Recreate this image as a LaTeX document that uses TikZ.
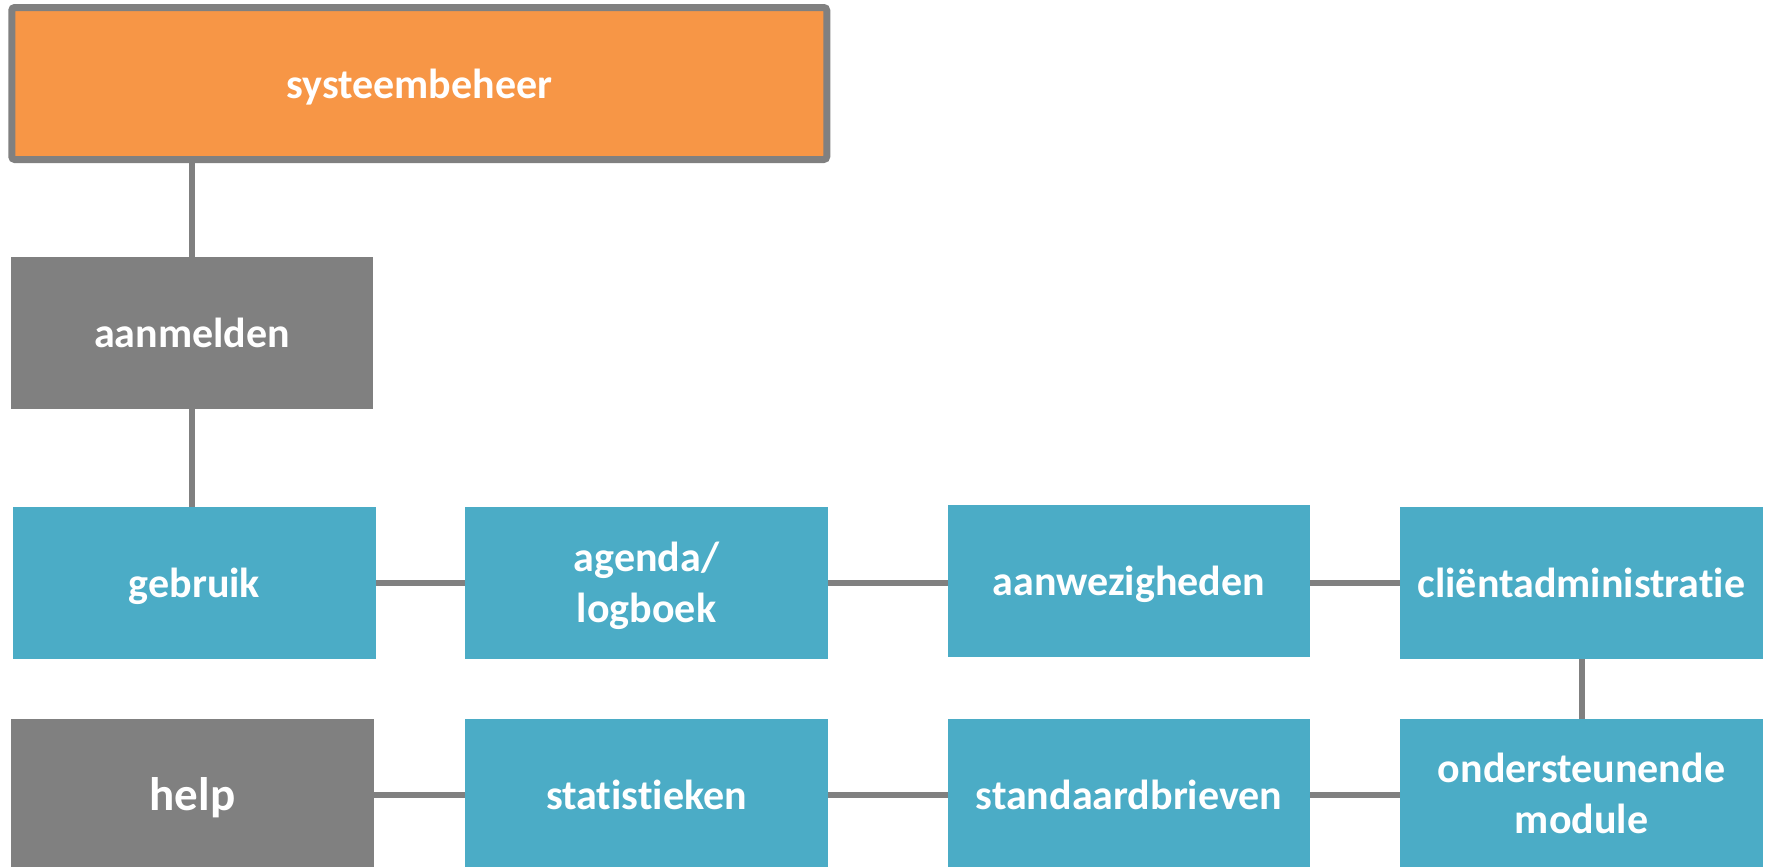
\documentclass[tikz,border=0pt]{standalone}
\usepackage{fontspec}
\setmainfont{Carlito}[Ligatures=CommonOff]
\definecolor{orangefill}{HTML}{F79646}
\definecolor{bluefill}{HTML}{4BACC6}
\definecolor{grayfill}{HTML}{808080}
\begin{document}
\begin{tikzpicture}[x=0.5pt,y=-0.5pt,
  box/.style={rectangle, inner sep=0pt, outer sep=0pt, minimum width=181.5pt, minimum height=76pt,
    text=white, align=center, font=\bfseries\fontsize{21pt}{25.5pt}\selectfont,
    text height=14.5pt, text depth=0pt},
  twoline/.style={text height=39pt, text depth=0pt},
  bluebox/.style={box, fill=bluefill},
  graybox/.style={box, fill=grayfill},
  topbox/.style={box, fill=orangefill, draw=grayfill, line width=3.5pt, rounded corners=1.5pt,
    minimum width=407.5pt, minimum height=76pt},
  conn/.style={draw=grayfill, line width=3pt}]
\useasboundingbox (0,0) rectangle (1774,867);
\node[topbox] (top) at (419.25,83.5) {systeembeheer};
\node[graybox, minimum width=181pt] (aanmelden) at (192,333) {aanmelden};
\node[bluebox] (gebruik) at (194.5,583) {gebruik};
\node[bluebox, twoline] (agenda) at (646.5,583) {agenda/\\logboek};
\node[bluebox, minimum width=181pt] (aanw) at (1129,581) {aanwezigheden};
\node[bluebox] (client) at (1581.5,583) {cliëntadministratie};
\node[graybox, font=\bfseries\fontsize{23.5pt}{28pt}\selectfont, text height=15pt] (help) at (192.5,795) {help};
\node[bluebox] (stat) at (646.5,795) {statistieken};
\node[bluebox, minimum width=181pt] (std) at (1129,795) {standaardbrieven};
\node[bluebox, twoline, text height=38pt] (ond) at (1581.5,795) {ondersteunende\\module};
\draw[conn] (aanmelden.north) -- (aanmelden.north |- top.south);
\draw[conn] (aanmelden.south) -- (aanmelden.south |- gebruik.north);
\draw[conn] (gebruik.east) -- (agenda.west);
\draw[conn] (agenda.east) -- (agenda.east -| aanw.west);
\draw[conn] (client.west) -- (client.west -| aanw.east);
\draw[conn] (client.south) -- (ond.north);
\draw[conn] (help.east) -- (stat.west);
\draw[conn] (stat.east) -- (std.west);
\draw[conn] (std.east) -- (ond.west);
\end{tikzpicture}
\end{document}
